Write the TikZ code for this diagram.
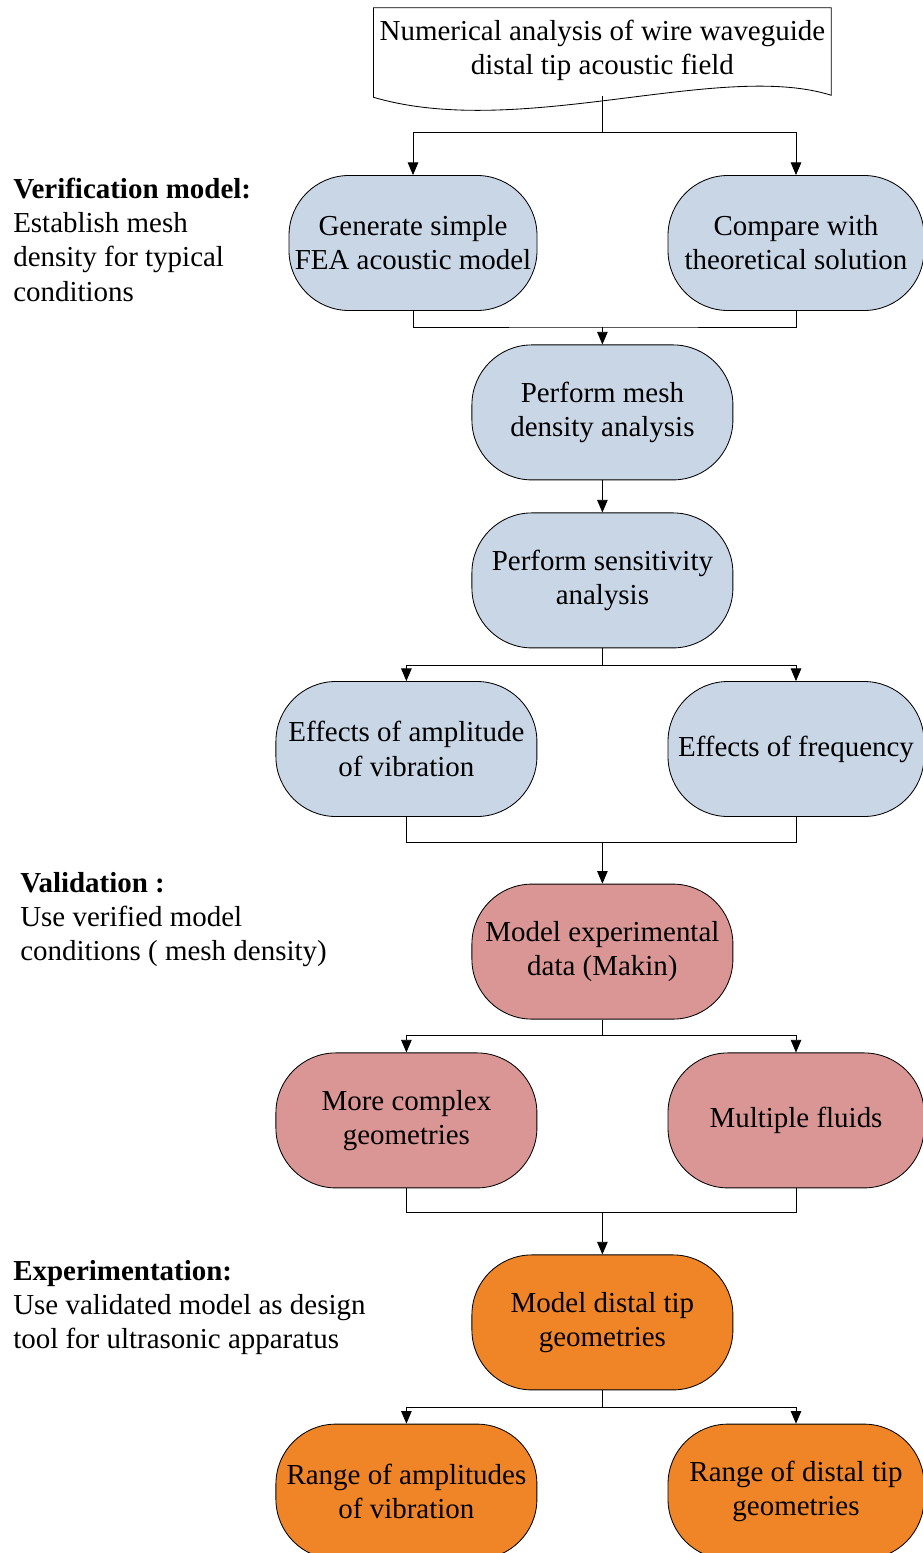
\documentclass[tikz,border=0pt]{standalone}
\usepackage{fontspec}
\setmainfont{Liberation Serif}
\usepackage{xcolor}
\usepackage{tikz}
\usetikzlibrary{positioning,arrows.meta,calc}
\definecolor{verblue}{RGB}{201,214,230}
\definecolor{valred}{RGB}{217,150,148}
\definecolor{exporange}{RGB}{240,133,40}

\begin{document}
\begin{tikzpicture}[
    font=\fontsize{20.6}{24.3}\selectfont,
    >=Latex,
    task/.style={draw, line width=0.6pt, rounded corners=1.5cm, align=center,
        minimum width=6.45cm, minimum height=3.375cm, inner sep=0pt},
    verif/.style={task, fill=verblue},
    valid/.style={task, fill=valred},
    exper/.style={task, fill=exporange},
    note/.style={anchor=north west, align=left, inner sep=0pt},
    arrow/.style={-{Triangle[length=9pt,width=7.5pt]}, line width=0.6pt},
    link/.style={line width=0.6pt}
]
\useasboundingbox (0,0) rectangle (23.075,-38.825);

% start: document shape with wavy bottom
\node[align=center, minimum width=11.43cm, minimum height=2.1cm, inner sep=0pt]
    (doc) at (15.06,-1.25) {Numerical analysis of wire waveguide\\distal tip acoustic field};
\draw[link] (doc.north west) -- (doc.north east) -- ($(doc.south east)+(0,-0.075)$)
    .. controls ($(doc.south east)+(-2.78,0.8)$) and ($(doc.south west)+(3.65,-1.2)$)
    .. ($(doc.south west)+(0,-0.125)$) -- cycle;
\coordinate (docb) at ($(doc.south)+(0,-0.1)$);

% verification model
\node[verif, minimum width=6.2cm] (gen) at (10.325,-6.075) {Generate simple\\FEA acoustic model};
\node[verif, minimum width=6.4cm] (comp) at (19.9,-6.075) {Compare with\\theoretical solution};
\draw[arrow] (docb) -- ++(0,-0.9) -| (gen.north);
\draw[arrow] (docb) -- ++(0,-0.9) -| (comp.north);

\node[verif, minimum width=6.525cm] (mesh) at (15.06,-10.31) {Perform mesh\\density analysis};
\coordinate (m1) at (15.06,-8.175);
\draw[link] (gen.south) |- (m1) -| (comp.south);
\draw[arrow] (m1) -- (mesh.north);

\node[verif, minimum width=6.525cm] (sens) at (15.06,-14.51) {Perform sensitivity\\analysis};
\draw[arrow] (mesh) -- (sens);

\node[verif, minimum width=6.525cm] (amp) at (10.16,-18.725) {Effects of amplitude\\of vibration};
\node[verif, minimum width=6.4cm] (freq) at (19.9,-18.725) {Effects of frequency};
\draw[arrow] (sens.south) -- ++(0,-0.425) -| (amp.north);
\draw[arrow] (sens.south) -- ++(0,-0.425) -| (freq.north);

% validation
\node[valid, minimum width=6.525cm] (makin) at (15.06,-23.79) {Model experimental\\data (Makin)};
\coordinate (m2) at (15.06,-21.05);
\draw[link] (amp.south) |- (m2) -| (freq.south);
\draw[arrow] (m2) -- (makin.north);

\node[valid, minimum width=6.525cm] (geom) at (10.16,-28.01) {More complex\\geometries};
\node[valid, minimum width=6.4cm] (fluids) at (19.9,-28.01) {Multiple fluids};
\draw[arrow] (makin.south) -- ++(0,-0.4) -| (geom.north);
\draw[arrow] (makin.south) -- ++(0,-0.4) -| (fluids.north);

% experimentation
\node[exper, minimum width=6.525cm] (distal) at (15.06,-33.06) {Model distal tip\\geometries};
\coordinate (m3) at (15.06,-30.3);
\draw[link] (geom.south) |- (m3) -| (fluids.south);
\draw[arrow] (m3) -- (distal.north);

\node[exper, minimum width=6.525cm] (rampl) at (10.16,-37.29) {Range of amplitudes\\of vibration};
\node[exper, minimum width=6.4cm] (rdist) at (19.9,-37.29) {Range of distal tip\\geometries};
\draw[arrow] (distal.south) -- ++(0,-0.425) -| (rampl.north);
\draw[arrow] (distal.south) -- ++(0,-0.425) -| (rdist.north);

% stage notes on the left
\node[note] (vernote) at (0.325,-4.45)
    {\textbf{Verification model:}\\Establish mesh\\density for typical\\conditions};
\node[note] (valnote) at (0.5,-21.8)
    {\textbf{Validation :}\\Use verified model\\conditions ( mesh density)};
\node[note] (expnote) at (0.325,-31.5)
    {\textbf{Experimentation:}\\Use validated model as design\\tool for ultrasonic apparatus};
\end{tikzpicture}
\end{document}
